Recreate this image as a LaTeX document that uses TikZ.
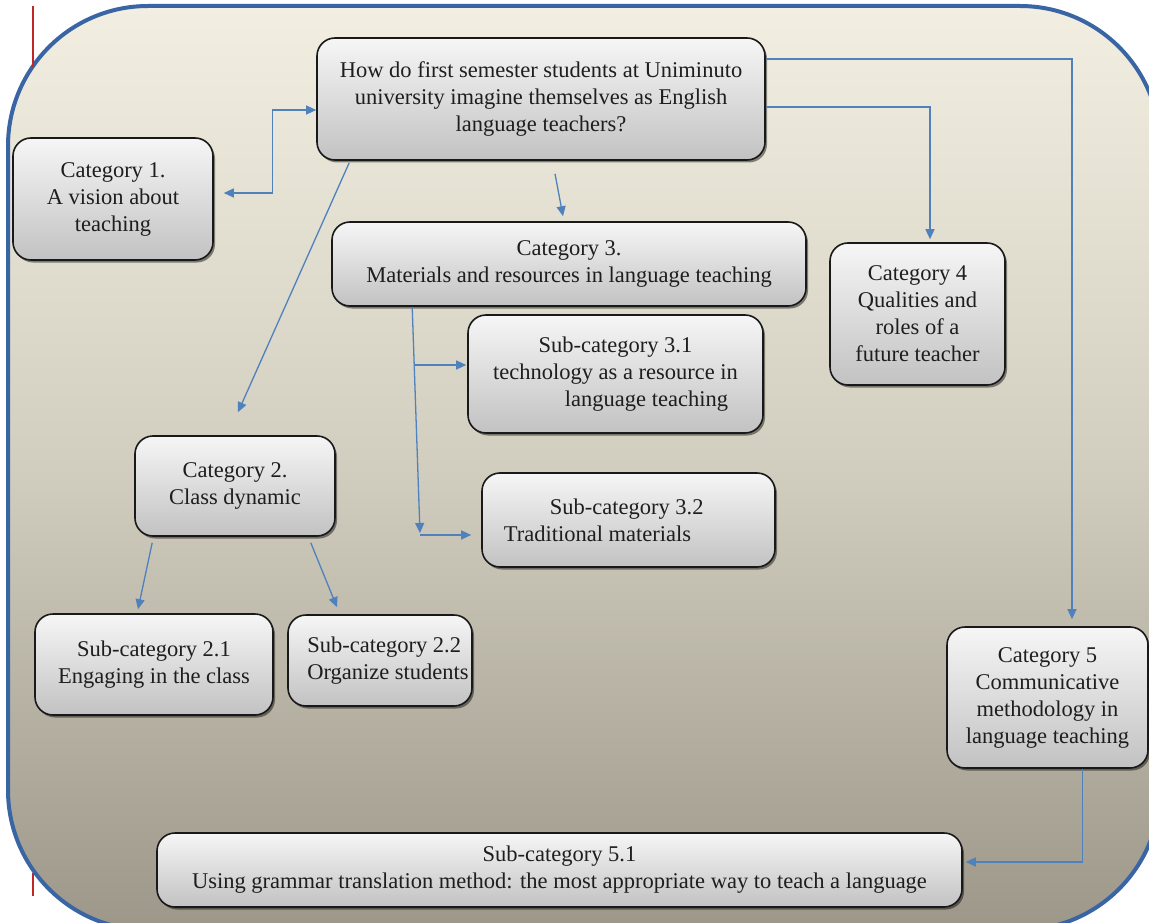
\documentclass[tikz,border=0pt]{standalone}
\usepackage{fontspec}
\setmainfont{Liberation Serif}
\usetikzlibrary{arrows.meta,calc,shadows}

\definecolor{connblue}{RGB}{79,129,189}
\definecolor{frameblue}{RGB}{58,101,165}
\definecolor{bgtop}{RGB}{242,239,226}
\definecolor{bgmid}{RGB}{210,206,191}
\definecolor{bgbot}{RGB}{156,151,136}
\definecolor{boxtop}{RGB}{246,246,246}
\definecolor{boxbot}{RGB}{194,194,194}
\definecolor{redline}{RGB}{192,40,40}
\definecolor{textdark}{RGB}{30,30,30}

\begin{document}
\begin{tikzpicture}[x=1pt,y=-1pt,
  box/.style={draw=black!90, line width=1.6pt, rounded corners=18pt,
    top color=boxtop, bottom color=boxbot, inner sep=0pt, align=center,
    text=textdark, font=\fontsize{22.5}{27}\selectfont,
    drop shadow={shadow xshift=2pt, shadow yshift=-2.5pt, opacity=0.45, fill=black}},
  link/.style={draw=connblue, line width=1.3pt, -{Triangle[length=10pt,width=9pt]}},
]
\useasboundingbox (0,0) rectangle (1149,923);
\begin{scope}
  \clip (0,0) rectangle (1149,923);
  \fill[white] (0,0) rectangle (1149,923);
  \path[draw=frameblue, line width=4pt, rounded corners=140pt,
    top color=bgtop, bottom color=bgbot, middle color=bgmid] (8,6) rectangle (1160,930);
\end{scope}
\draw[redline, line width=2.5pt] (33,6) -- (33,67);
\draw[redline, line width=2.5pt] (33,873) -- (33,896);

\node[box, minimum width=448pt, minimum height=122pt] (q) at (541,99)
  {How do first semester students at Uniminuto\\university imagine themselves as English\\language teachers?};
\node[box, minimum width=200pt, minimum height=122pt] (cat1) at (113,199)
  {Category 1.\\A vision about\\teaching};
\node[box, minimum width=474pt, minimum height=84pt] (cat3) at (569,264)
  {Category 3.\\Materials and resources in language teaching};
\node[box, minimum width=175pt, minimum height=142pt] (cat4) at (917.5,314)
  {Category 4\\Qualities and\\roles of a\\future teacher};
\node[box, minimum width=295pt, minimum height=118pt] (sub31) at (615.5,374)
  {Sub-category 3.1\\technology as a resource in\\\hspace*{62pt}language teaching};
\node[box, minimum width=293pt, minimum height=94pt, align=left] (sub32) at (628.5,520)
  {\hspace*{46pt}Sub-category 3.2\\Traditional materials\hspace*{62pt}};
\node[box, minimum width=200pt, minimum height=100pt] (cat2) at (235,486)
  {Category 2.\\Class dynamic};
\node[box, minimum width=238pt, minimum height=101pt] (sub21) at (154,664.5)
  {Sub-category 2.1\\Engaging in the class};
\node[box, minimum width=184pt, minimum height=91pt, align=left] (sub22) at (380,660.5)
  {\hspace*{16pt}Sub-category 2.2\\\hspace*{16pt}Organize students};
\node[box, minimum width=201pt, minimum height=141pt] (cat5) at (1047.5,697.5)
  {Category 5\\Communicative\\methodology in\\language teaching};
\node[box, minimum width=805pt, minimum height=74pt] (sub51) at (559.5,870)
  {Sub-category 5.1\\Using grammar translation method: the most appropriate way to teach a language};

% connectors
\draw[link, {Triangle[length=10pt,width=9pt]}-{Triangle[length=10pt,width=9pt]}]
  ($(cat1.east)+(10,-6)$) -- ++(49,0) |- ($(q.west)+(0,11)$);
\draw[link] ($(q.south)+(14,13)$) -- ($(cat3.north)+(-6,-5)$);
\draw[link] ($(q.south west)+(33,2)$) -- ($(cat2.north)+(3,-23)$);
\draw[link] ($(q.east)+(0,8)$) -| ($(cat4.north)+(12.5,-3)$);
\draw[link] ($(q.east)+(0,-40)$) -| ($(cat5.north)+(24.5,-7)$);
\draw[link] ($(cat5.south)+(35,0)$) |- ($(sub51.east)+(3,-8)$);
\draw[link] ($(cat2.south west)+(18,6)$) -- ($(sub21.north)+(-16,-4)$);
\draw[link] ($(cat2.south east)+(-25,6)$) -- ($(sub22.north)+(-43,-7)$);

\coordinate (j3a) at (414.8,365);
\coordinate (j3b) at (420,533);
\draw[link] ($(cat3.south west)+(81,0)$) -- (j3b);
\draw[link] (j3a) -- ($(j3a -| sub31.west)+(-1,0)$);
\draw[link] ($(j3b)+(0,2)$) -- ($(sub32.west |- j3b)+(-10,2)$);
\end{tikzpicture}
\end{document}
